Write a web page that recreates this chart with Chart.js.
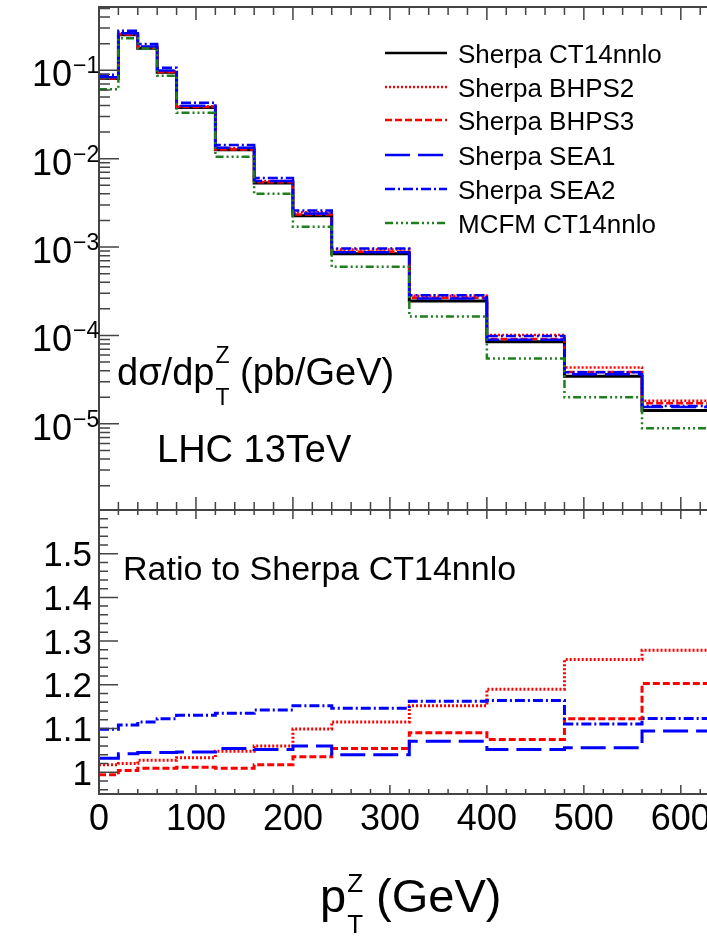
<!DOCTYPE html>
<html>
<head>
<meta charset="utf-8">
<script src="https://cdn.jsdelivr.net/npm/chart.js@4.4.1/dist/chart.umd.min.js"></script>
<style>
html,body{margin:0;padding:0;background:#fff;}
#wrap{position:relative;width:707px;height:936px;overflow:hidden;background:#fff;}
canvas{position:absolute;left:0;top:0;}
</style>
</head>
<body>
<div id="wrap">
<canvas id="top" width="707" height="936"></canvas>
<canvas id="bot" width="707" height="936"></canvas>
</div>
<script>
// ---- data ----
const binEdges = [0,20,40,60,80,120,160,200,240,320,400,480,560,640];
const seriesNames = ["Sherpa CT14nnlo","Sherpa BHPS2","Sherpa BHPS3","Sherpa SEA1","Sherpa SEA2","MCFM CT14nnlo"];
const xsCT14 = [0.081,0.253,0.178,0.095,0.038,0.0126,0.0053,0.00226,0.00084,0.000245,0.000085,0.0000345,0.0000142];
const xsBHPS2 = [0.0825,0.258,0.183,0.0975,0.0393,0.0132,0.0056,0.00248,0.00094,0.000282,0.000101,0.0000434,0.0000182];
const xsBHPS3 = [0.0805,0.254,0.18,0.0958,0.0384,0.0127,0.0054,0.00234,0.000885,0.000267,0.0000914,0.0000387,0.0000171];
const xsSEA1 = [0.0836,0.263,0.186,0.0993,0.0397,0.0133,0.00558,0.0024,0.000874,0.000262,0.0000894,0.0000364,0.0000155];
const xsSEA2 = [0.089,0.28,0.198,0.1066,0.0429,0.0143,0.00605,0.0026,0.000963,0.000285,0.0000989,0.0000383,0.0000159];
const xsMCFM = [0.061,0.23,0.176,0.087,0.033,0.0105,0.004,0.0017,0.0006,0.000164,0.000055,0.00002,0.0000089];
const ratioBHPS2 = [1.017,1.02,1.027,1.027,1.033,1.048,1.06,1.099,1.115,1.152,1.19,1.258,1.279];
const ratioBHPS3 = [0.994,1.004,1.009,1.009,1.011,1.009,1.017,1.035,1.054,1.09,1.075,1.122,1.203];
const ratioSEA1 = [1.032,1.042,1.045,1.045,1.046,1.054,1.052,1.06,1.04,1.071,1.052,1.056,1.094];
const ratioSEA2 = [1.098,1.108,1.115,1.122,1.13,1.135,1.142,1.152,1.146,1.162,1.164,1.11,1.123];
const xTickLabels = ["0","100","200","300","400","500","600"];
const ratioTickLabels = ["1","1.1","1.2","1.3","1.4","1.5"];
const decadeExponents = [-1,-2,-3,-4,-5];

// ---- styles ----
const FONT = '"Liberation Sans", Arial, Helvetica, sans-serif';
const FRAME = '#444';
const styles = [
  {color:'#000000', dash:[]},
  {color:'#ff0000', dash:[2,2]},
  {color:'#ff0000', dash:[7,3]},
  {color:'#0000ff', dash:[25,8]},
  {color:'#0000ff', dash:[10,3,2,3]},
  {color:'#1f7f1f', dash:[8,3,2,3,2,3,2,3]}
];

function histPoints(vals){
  const pts = [];
  for (let i=0;i<vals.length;i++){
    pts.push({x:binEdges[i], y:vals[i]});
    pts.push({x:binEdges[i+1], y:vals[i]});
  }
  return pts;
}
function ds(vals, st, order, width){
  return {data:histPoints(vals), borderColor:st.color, borderDash:st.dash, borderWidth:width,
          pointRadius:0, fill:false, tension:0, order:order, borderCapStyle:'butt', borderJoinStyle:'miter'};
}

function drawScript(ctx, x, y, base, sup, sub, size, ssize, supRaise, subDrop){
  ctx.font = size+'px '+FONT;
  ctx.textAlign='left';
  ctx.fillText(base, x, y);
  let ex = x + ctx.measureText(base).width + 1;
  ctx.font = ssize+'px '+FONT;
  let w = 0;
  if (sup){ ctx.fillText(sup, ex, y - size*supRaise); w = Math.max(w, ctx.measureText(sup).width); }
  if (sub){ ctx.fillText(sub, ex, y + size*subDrop); w = Math.max(w, ctx.measureText(sub).width); }
  return ex + w;
}

const xMin = 0, xMax = 627;

// ---- top panel ----
const topPlugin = {
  id:'topdeco',
  afterDraw(chart){
    const ctx = chart.ctx, ca = chart.chartArea;
    const xs = chart.scales.x, ys = chart.scales.y;
    ctx.save();
    ctx.strokeStyle = FRAME; ctx.lineWidth = 2;
    ctx.beginPath();
    ctx.moveTo(ca.left, ca.bottom); ctx.lineTo(ca.left, ca.top); ctx.lineTo(ca.right+2, ca.top);
    ctx.moveTo(ca.left, ca.bottom); ctx.lineTo(ca.right+2, ca.bottom);
    ctx.stroke();
    ctx.lineWidth = 1.5;
    ctx.beginPath();
    for (let e=-7;e<=0;e++){
      for (let m=1;m<=9;m++){
        const v = m*Math.pow(10,e);
        if (v < ys.min || v > ys.max) continue;
        const y = ys.getPixelForValue(v);
        const len = m===1 ? 20 : 11;
        ctx.moveTo(ca.left, y); ctx.lineTo(ca.left+len, y);
      }
    }
    for (let v=0; v<=xMax; v+=20){
      const x = xs.getPixelForValue(v);
      const len = v%100===0 ? 13 : 8;
      ctx.moveTo(x, ca.top); ctx.lineTo(x, ca.top+len);
      ctx.moveTo(x, ca.bottom); ctx.lineTo(x, ca.bottom-len);
    }
    ctx.stroke();
    ctx.fillStyle = '#000';
    ctx.textBaseline = 'alphabetic';
    decadeExponents.forEach(e=>{
      const y = ys.getPixelForValue(Math.pow(10,e));
      ctx.font = '36px '+FONT; ctx.textAlign='right';
      ctx.fillText('10', 72, y+16);
      ctx.font = '23px '+FONT; ctx.textAlign='left';
      ctx.fillText('\u2212'+(-e), 73, y+3);
    });
    ctx.textAlign='left';
    let ex = drawScript(ctx, 117, 385, 'd\u03c3/dp', 'Z', 'T', 38, 23, 0.58, 0.53);
    ctx.font = '38px '+FONT;
    ctx.fillText(' (pb/GeV)', ex, 385);
    ctx.fillText('LHC 13TeV', 157, 462);
    const rows = [53,87,120,155,189,223];
    seriesNames.forEach((n,i)=>{
      ctx.beginPath();
      ctx.strokeStyle = styles[i].color; ctx.lineWidth = 2.5;
      ctx.setLineDash(styles[i].dash);
      ctx.moveTo(385, rows[i]); ctx.lineTo(447, rows[i]);
      ctx.stroke();
      ctx.setLineDash([]);
      ctx.fillStyle='#000'; ctx.font='26px '+FONT; ctx.textAlign='left';
      ctx.fillText(n, 458, rows[i]+9.5);
    });
    ctx.restore();
  }
};

new Chart(document.getElementById('top'), {
  type:'line',
  data:{datasets:[
    ds(xsCT14, styles[0], 6, 3),
    ds(xsBHPS2, styles[1], 5, 2.5),
    ds(xsBHPS3, styles[2], 4, 2.5),
    ds(xsSEA1, styles[3], 3, 2.5),
    ds(xsSEA2, styles[4], 2, 2.5),
    ds(xsMCFM, styles[5], 1, 2.5)
  ]},
  options:{
    responsive:false, animation:false, devicePixelRatio:1,
    layout:{padding:{left:99, top:7, right:0, bottom:936-510}},
    scales:{
      x:{type:'linear', min:xMin, max:xMax, display:false},
      y:{type:'logarithmic', min:1.06e-6, max:0.52, display:false}
    },
    plugins:{legend:{display:false}, tooltip:{enabled:false}},
    events:[]
  },
  plugins:[topPlugin]
});

// ---- ratio panel ----
const botPlugin = {
  id:'botdeco',
  afterDraw(chart){
    const ctx = chart.ctx, ca = chart.chartArea;
    const xs = chart.scales.x, ys = chart.scales.y;
    ctx.save();
    ctx.strokeStyle = FRAME; ctx.lineWidth = 2;
    ctx.beginPath();
    ctx.moveTo(ca.left, ca.top); ctx.lineTo(ca.left, ca.bottom); ctx.lineTo(ca.right+2, ca.bottom);
    ctx.stroke();
    ctx.lineWidth = 1.5;
    ctx.beginPath();
    for (let k=48; k<=80; k++){
      const v = k*0.02;
      if (v < ys.min || v > ys.max) continue;
      const y = ys.getPixelForValue(v);
      const len = (k%5===0) ? 19 : 9;
      ctx.moveTo(ca.left, y); ctx.lineTo(ca.left+len, y);
    }
    for (let v=0; v<=xMax; v+=20){
      const x = xs.getPixelForValue(v);
      const len = v%100===0 ? 9 : 5;
      ctx.moveTo(x, ca.top); ctx.lineTo(x, ca.top+len);
      ctx.moveTo(x, ca.bottom); ctx.lineTo(x, ca.bottom-len);
    }
    ctx.stroke();
    ctx.fillStyle='#000';
    ctx.font='35px '+FONT; ctx.textAlign='right';
    ratioTickLabels.forEach(t=>{
      const y = ys.getPixelForValue(parseFloat(t));
      ctx.fillText(t, 92, y+12.5);
    });
    ctx.textAlign='center';
    ctx.font='36px '+FONT;
    xTickLabels.forEach(t=>{
      const x = xs.getPixelForValue(parseFloat(t));
      ctx.fillText(t, x, 830);
    });
    ctx.textAlign='left';
    ctx.font='34px '+FONT;
    ctx.fillText('Ratio to Sherpa CT14nnlo', 123, 580);
    let ex = drawScript(ctx, 320, 912, 'p', 'Z', 'T', 47, 26, 0.42, 0.45);
    ctx.font='47px '+FONT;
    ctx.fillText(' (GeV)', ex, 912);
    ctx.restore();
  }
};

new Chart(document.getElementById('bot'), {
  type:'line',
  data:{datasets:[
    ds(ratioBHPS2, styles[1], 4, 3),
    ds(ratioBHPS3, styles[2], 3, 3),
    ds(ratioSEA1, styles[3], 2, 3),
    ds(ratioSEA2, styles[4], 1, 3)
  ]},
  options:{
    responsive:false, animation:false, devicePixelRatio:1,
    layout:{padding:{left:99, top:510, right:0, bottom:936-794}},
    scales:{
      x:{type:'linear', min:xMin, max:xMax, display:false},
      y:{type:'linear', min:0.95, max:1.6, display:false}
    },
    plugins:{legend:{display:false}, tooltip:{enabled:false}},
    events:[]
  },
  plugins:[botPlugin]
});
</script>
</body>
</html>
